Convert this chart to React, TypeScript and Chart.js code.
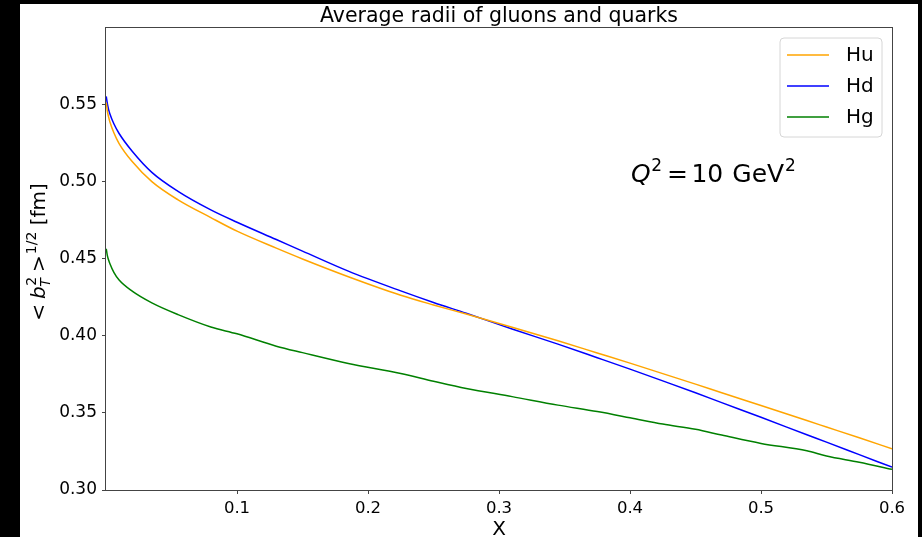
import React, { useEffect, useRef } from 'react';
import { Chart, registerables } from 'chart.js';

Chart.register(...registerables);

// ---- data ----
const xValues = [0.0002, 0.001, 0.002, 0.003, 0.006, 0.01, 0.02, 0.035, 0.055, 0.08, 0.1, 0.13, 0.15, 0.185, 0.225, 0.25, 0.275, 0.31, 0.345, 0.375, 0.4, 0.425, 0.45, 0.47, 0.5, 0.535, 0.55, 0.575, 0.6];
const huValues = [0.551, 0.5457, 0.5416, 0.5385, 0.5315, 0.5245, 0.5128, 0.4998, 0.488, 0.4765, 0.4677, 0.4567, 0.4497, 0.4382, 0.4262, 0.4199, 0.414, 0.4055, 0.3967, 0.3888, 0.3822, 0.3754, 0.3686, 0.363, 0.3547, 0.345, 0.3408, 0.3338, 0.3267];
const hdValues = [0.555, 0.5505, 0.5465, 0.5437, 0.5373, 0.531, 0.5195, 0.5058, 0.4935, 0.4815, 0.4735, 0.4623, 0.4548, 0.4418, 0.429, 0.4215, 0.4145, 0.4043, 0.3945, 0.3857, 0.3783, 0.3707, 0.363, 0.3566, 0.3471, 0.3358, 0.331, 0.3229, 0.3148];
const hgValues = [0.4563, 0.452, 0.449, 0.4466, 0.441, 0.436, 0.4288, 0.4212, 0.4136, 0.4056, 0.4012, 0.3932, 0.389, 0.382, 0.3755, 0.3705, 0.3658, 0.3605, 0.355, 0.3508, 0.3468, 0.3427, 0.3393, 0.3356, 0.3302, 0.3254, 0.322, 0.318, 0.3134];

const seriesLabels = ['Hu', 'Hd', 'Hg'];
const seriesColors = ['#ffa500', '#0000ff', '#008000'];
const xTicks = [0.1, 0.2, 0.3, 0.4, 0.5, 0.6];
const yTicks = [0.3, 0.35, 0.4, 0.45, 0.5, 0.55];
const titleText = 'Average radii of gluons and quarks';
const xLabel = 'X';

const FONT = '"DejaVu Sans", sans-serif';

const decorPlugin = {
  id: 'decor',
  beforeDraw(chart: any) {
    const { ctx, width, height } = chart;
    ctx.save();
    ctx.fillStyle = '#000';
    ctx.fillRect(0, 0, width, height);
    ctx.fillStyle = '#fff';
    ctx.fillRect(20, 4, 898, height - 4);
    ctx.restore();
  },
  afterDraw(chart: any) {
    const { ctx, chartArea } = chart;
    const { left, right, top, bottom } = chartArea;
    ctx.save();
    // spines
    ctx.strokeStyle = '#444';
    ctx.lineWidth = 1;
    ctx.strokeRect(Math.round(left) - 0.5, Math.round(top) + 0.5, Math.round(right - left) + 1, Math.round(bottom - top));

    // title
    ctx.fillStyle = '#000';
    ctx.font = `20.5px ${FONT}`;
    ctx.textAlign = 'center';
    ctx.textBaseline = 'alphabetic';
    ctx.fillText(titleText, (left + right) / 2, 22);

    // x label
    ctx.font = `20px ${FONT}`;
    ctx.fillText(xLabel, (left + right) / 2, 535);

    // y label  < b_T^2 >^{1/2} [fm]
    ctx.save();
    ctx.translate(45, 252);
    ctx.rotate(-Math.PI / 2);
    ctx.textAlign = 'left';
    const big = `20px ${FONT}`;
    const bigIt = `italic 20px ${FONT}`;
    const small = `14px ${FONT}`;
    const smallIt = `italic 14px ${FONT}`;
    type Piece = { t: string; f: string; dy: number; gap?: number; stack?: Piece };
    const pieces: Piece[] = [
      { t: '<', f: big, dy: 0, gap: 5 },
      { t: 'b', f: bigIt, dy: 0, gap: 0.5 },
      { t: '2', f: small, dy: -9, gap: 5, stack: { t: 'T', f: smallIt, dy: 5 } },
      { t: '>', f: big, dy: 0, gap: 1 },
      { t: '1/2', f: small, dy: -9, gap: 0 },
      { t: ' [fm]', f: big, dy: 0, gap: 0 },
    ];
    const widths = pieces.map((p) => {
      ctx.font = p.f;
      let w = ctx.measureText(p.t).width;
      if (p.stack) {
        ctx.font = p.stack.f;
        w = Math.max(w, ctx.measureText(p.stack.t).width);
      }
      return w;
    });
    const total = widths.reduce((a, w, i) => a + w + (pieces[i].gap || 0), 0);
    let cx = -total / 2;
    pieces.forEach((p, i) => {
      ctx.font = p.f;
      ctx.fillText(p.t, cx, p.dy);
      if (p.stack) {
        ctx.font = p.stack.f;
        ctx.fillText(p.stack.t, cx - 1, p.stack.dy);
      }
      cx += widths[i] + (p.gap || 0);
    });
    ctx.restore();

    // annotation Q^2 = 10 GeV^2
    ctx.textAlign = 'left';
    let ax = 631;
    const ay = 182;
    const seq: { t: string; f: string; dy: number; gap: number }[] = [
      { t: 'Q', f: `italic 25px ${FONT}`, dy: 0, gap: 0.5 },
      { t: '2', f: `17px ${FONT}`, dy: -11, gap: 5 },
      { t: '=', f: `25px ${FONT}`, dy: 0, gap: 3.5 },
      { t: '10', f: `25px ${FONT}`, dy: 0, gap: 9 },
      { t: 'GeV', f: `25px ${FONT}`, dy: 0, gap: 1 },
      { t: '2', f: `17px ${FONT}`, dy: -11, gap: 0 },
    ];
    seq.forEach((p) => {
      ctx.font = p.f;
      ctx.fillText(p.t, ax, ay + p.dy);
      ax += ctx.measureText(p.t).width + p.gap;
    });

    // legend
    const lx = 780, ly = 38, lw = 102, lh = 99, r = 4;
    ctx.beginPath();
    ctx.moveTo(lx + r, ly);
    ctx.lineTo(lx + lw - r, ly);
    ctx.arcTo(lx + lw, ly, lx + lw, ly + r, r);
    ctx.lineTo(lx + lw, ly + lh - r);
    ctx.arcTo(lx + lw, ly + lh, lx + lw - r, ly + lh, r);
    ctx.lineTo(lx + r, ly + lh);
    ctx.arcTo(lx, ly + lh, lx, ly + lh - r, r);
    ctx.lineTo(lx, ly + r);
    ctx.arcTo(lx, ly, lx + r, ly, r);
    ctx.closePath();
    ctx.fillStyle = 'rgba(255,255,255,0.8)';
    ctx.fill();
    ctx.strokeStyle = '#d6d6d6';
    ctx.lineWidth = 1;
    ctx.stroke();
    chart.data.datasets.forEach((ds: any, i: number) => {
      const yy = 55 + i * 31;
      ctx.strokeStyle = ds.borderColor;
      ctx.lineWidth = ds.borderWidth;
      ctx.beginPath();
      ctx.moveTo(787, yy);
      ctx.lineTo(829, yy);
      ctx.stroke();
      ctx.fillStyle = '#000';
      ctx.font = `20px ${FONT}`;
      ctx.textBaseline = 'middle';
      ctx.fillText(ds.label, 846, yy + 1);
    });
    ctx.restore();
  },
};

export default function App() {
  const canvasRef = useRef<HTMLCanvasElement | null>(null);

  useEffect(() => {
    document.body.style.margin = '0';
    document.body.style.background = '#000';
    const canvas = canvasRef.current;
    if (!canvas) return;
    const series = [huValues, hdValues, hgValues];
    const chart = new Chart(canvas, {
      type: 'line',
      data: {
        datasets: series.map((vals, i) => ({
          label: seriesLabels[i],
          data: xValues.map((x, j) => ({ x, y: vals[j] })),
          borderColor: seriesColors[i],
          backgroundColor: seriesColors[i],
          borderWidth: 1.5,
          pointRadius: 0,
          fill: false,
          cubicInterpolationMode: 'monotone' as const,
        })),
      },
      options: {
        responsive: false,
        animation: false,
        events: [],
        layout: { padding: { left: 20, top: 27, right: 30, bottom: 0 } },
        plugins: {
          legend: { display: false },
          title: { display: false },
          tooltip: { enabled: false },
        },
        scales: {
          x: {
            type: 'linear',
            min: 0,
            max: 0.6,
            afterBuildTicks: (scale: any) => {
              scale.ticks = xTicks.map((v) => ({ value: v }));
            },
            afterFit: (scale: any) => {
              scale.height = 47;
            },
            grid: { drawOnChartArea: false, drawTicks: true, tickLength: 4, color: '#444', lineWidth: 1 },
            border: { display: false },
            ticks: {
              color: '#000',
              font: { family: FONT, size: 16.5 },
              padding: 5,
              maxRotation: 0,
              autoSkip: false,
              callback: (v: any) => Number(v).toFixed(1),
            },
          },
          y: {
            type: 'linear',
            min: 0.3,
            max: 0.6,
            afterBuildTicks: (scale: any) => {
              scale.ticks = yTicks.map((v) => ({ value: v }));
            },
            afterFit: (scale: any) => {
              scale.width = 86;
            },
            grid: { drawOnChartArea: false, drawTicks: true, tickLength: 4, color: '#444', lineWidth: 1 },
            border: { display: false },
            ticks: {
              color: '#000',
              font: { family: FONT, size: 17 },
              padding: 5,
              autoSkip: false,
              callback: (v: any) => Number(v).toFixed(2),
            },
          },
        },
      },
      plugins: [decorPlugin],
    });
    return () => chart.destroy();
  }, []);

  return (
    <div style={{ width: 922, height: 537 }}>
      <canvas ref={canvasRef} width={922} height={537} style={{ display: 'block', width: 922, height: 537 }} />
    </div>
  );
}
